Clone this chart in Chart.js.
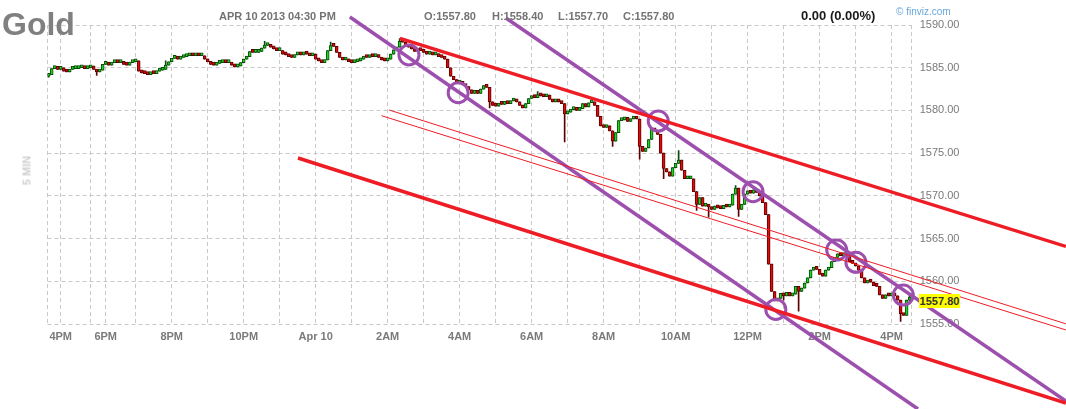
<!DOCTYPE html>
<html>
<head>
<meta charset="utf-8">
<script src="https://cdn.jsdelivr.net/npm/chart.js@4.4.0/dist/chart.umd.min.js"></script>
<style>
body{margin:0;background:#fff;font-family:Arial,"Liberation Sans",sans-serif}
#wrap{position:relative;width:1066px;height:409px;overflow:hidden}
#grafico{position:absolute;left:0;top:0}
.t{position:absolute;white-space:nowrap;font-weight:bold;font-size:11px;line-height:11px;color:#737373}
#titulo{left:2px;top:8px;font-size:32px;line-height:32px;color:#808080}
#cambio{left:801px;top:9px;font-size:13px;line-height:13px;color:#1a1a1a}
#marca{left:896px;top:7px;font-weight:normal;font-size:10px;line-height:10px;color:#6aa6d8}
#intervalo{left:7px;top:165px;color:#cfcfcf;transform:rotate(-90deg);transform-origin:50% 50%;width:40px;text-align:center}
#ultimo{left:919px;top:294px;width:41px;height:14px;line-height:14px;text-align:center;background:#ffff00;color:#333}
</style>
</head>
<body>
<div id="wrap">
<canvas id="grafico" width="1066" height="409"></canvas>
<div class="t" id="titulo">Gold</div>
<div class="t" style="left:219px;top:11px">APR 10 2013 04:30 PM</div>
<div class="t" style="left:424px;top:11px">O:1557.80</div>
<div class="t" style="left:492px;top:11px">H:1558.40</div>
<div class="t" style="left:558px;top:11px">L:1557.70</div>
<div class="t" style="left:623px;top:11px">C:1557.80</div>
<div class="t" id="cambio">0.00 (0.00%)</div>
<div class="t" id="marca">© finviz.com</div>
<div class="t" id="intervalo">5 MIN</div>
<div class="t" id="ultimo">1557.80</div>
</div>
<script>
document.addEventListener("DOMContentLoaded", function(){

// cierres de velas de 5 min (indice = posicion de la vela)
const aperturaInicial=1584.0;
const cierres=[
1584.2,1584.9,
1585.0,1584.8,1585.0,1584.6,1584.5,1584.8,1584.9,1584.9,1585.0,1585.1,1584.9,1585.0,1585.2,1584.8,1584.5,1584.7,
1585.4,1585.6,1585.3,
1585.6,1585.7,1585.6,1585.6,1585.4,1585.3,1585.6,1585.7,1585.8,
1584.6,1584.4,1584.3,1584.2,1584.4,1584.3,1584.6,1584.7,1584.8,1585.3,1585.7,
1586.1,1586.2,1586.0,1586.2,1586.3,
1586.4,1586.5,1586.4,1586.5,1586.4,1586.4,1586.0,1585.7,
1585.4,1585.3,1585.5,1585.6,1585.7,1585.6,1585.6,1585.3,1585.1,1585.2,
1585.6,1586.0,1586.3,1586.9,1586.8,1586.8,1586.9,1587.3,1587.6,1587.7,
1587.4,1587.2,1587.0,1587.0,1586.6,1586.5,1586.3,1586.2,1586.5,
1586.6,1586.5,1586.8,1586.6,1586.4,1586.6,
1586.0,1585.8,1585.6,1585.9,1587.0,1587.6,1587.5,1586.8,1586.2,1585.9,1586.0,
1585.7,1585.6,1585.7,1585.8,
1586.0,1586.3,1586.2,1586.4,1586.3,1586.5,1586.2,
1585.9,1585.8,1586.0,1586.6,1587.1,1587.4,1588.1,1588.0,
1587.6,1587.4,1587.2,1586.9,1587.2,1587.0,
1586.8,1586.6,1586.7,1586.5,1586.6,1586.3,1586.2,1586.0,1585.0,1584.0,
1583.6,1583.2,1583.4,1583.0,1582.8,1582.4,1582.0,1582.2,1582.0,
1582.5,1582.9,1582.7,1581.0,
1580.6,1580.5,1580.8,1580.7,1581.0,1580.8,1581.1,1581.2,1581.0,1580.6,1580.3,1580.8,1581.4,
1581.6,1581.5,1581.8,1581.7,1581.6,1581.8,1581.3,1581.0,1581.2,1581.0,1580.8,
1579.6,1579.8,1580.1,1580.2,1580.0,1580.2,1580.8,1580.4,1580.9,1581.0,1580.6,
1579.3,1578.2,1578.0,1578.2,1577.6,1576.4,1577.4,1578.8,
1578.9,1579.2,1578.7,1579.0,1579.2,1579.0,
1575.8,1575.2,1575.6,1576.6,1577.8,1577.6,1577.2,1575.0,1573.2,
1572.8,1572.3,1573.3,1573.8,1574.2,1573.0,1572.0,1572.0,1572.0,
1570.5,1569.0,1569.8,1568.8,1569.0,
1568.7,1568.4,1568.8,1568.6,1568.5,1568.9,1568.7,1568.9,
1570.2,1570.9,1568.4,1569.0,1570.2,1570.6,1570.3,1570.7,1570.4,1570.0,1569.2,
1567.8,1562.0,1558.8,1557.7,1558.0,1558.6,1558.3,1558.7,1558.3,1558.5,1559.4,1558.8,
1559.2,1559.8,1560.4,1561.3,1561.5,1561.4,1560.8,1560.6,1561.3,1561.6,
1562.3,1562.8,1563.2,1563.0,1563.1,1562.9,1562.3,1562.1,1561.8,1561.3,
1560.4,1559.8,1560.0,1559.9,1559.5,1559.4,1558.4,1558.0,1558.4,
1558.3,1558.4,1558.3,1557.8,1556.2,1556.0,1557.8,1557.8
];
// mechas visibles: [indice, precio]
const mechasAltas=[[39,1585.8],[72,1588.1],[94,1588.0],[117,1588.4],[163,1582.2],[210,1575.3],[229,1571.2],[287,1558.4]];
const mechasBajas=[[0,1583.9],[16,1584.1],[147,1580.3],[172,1576.3],[188,1575.8],[197,1574.3],[205,1572.0],[216,1568.3],[220,1567.5],[230,1567.6],[245,1557.8],[250,1556.5],[284,1555.3],[287,1557.7]];

// lineas de tendencia dibujadas a mano: [indice, precio]
const canalMoradoBajo=[[100.4,1590.94],[289.8,1545.05]];
const canalMoradoAlto=[[152.4,1590.82],[339.1,1545.99]];
const canalRojoAlto=[[117.1,1588.44],[339.1,1564.08]];
const canalRojoBajo=[[83.1,1574.43],[339.1,1545.75]];
const canalFinoA=[[113.5,1580.05],[339.1,1555.02]];
const canalFinoB=[[111.0,1579.38],[339.1,1554.30]];
const circulos=[[120.1,1586.49],[136.5,1582.08],[203.2,1578.76],[234.8,1570.49],[262.7,1563.66],[269.1,1562.22],[284.9,1558.39],[242.4,1556.70]];

// eje x: velas en cada hora
const horasIdx=[4,14,19,29,41,53,65,77,89,101,113,125,137,149,161,173,185,197,209,221,233,245,257,269,281];
const horasTxt=['4PM','','6PM','','8PM','','10PM','','Apr 10','','2AM','','4AM','','6AM','','8AM','','10AM','','12PM','','2PM','','4PM'];
const precioMin=1555, precioMax=1590, precioPaso=5;
const ultimoIdx=287.7, primerIdx=-0.4;

const MORADO='#9d4fae', ROJO='#ee1c25';
const VERDE='#1fd31f', VERDE_B='#0a4a0a', ROJA='#e00b0b', ROJA_B='#5e0000';

const hiMap=Object.fromEntries(mechasAltas), loMap=Object.fromEntries(mechasBajas);
const velas=cierres.map((c,i)=>{
 const o=i?cierres[i-1]:aperturaInicial;
 const hi=hiMap[i]!==undefined?hiMap[i]:Math.max(o,c);
 const lo=loMap[i]!==undefined?loMap[i]:Math.min(o,c);
 return {i,o,c,hi,lo,sube:c>=o};
});

const aPts=arr=>arr.map(p=>({x:p[0],y:p[1]}));
const linea=(arr,color,ancho)=>({type:'line',data:aPts(arr),borderColor:color,borderWidth:ancho,pointRadius:0,clip:false,order:0,tension:0});

Chart.defaults.font.family='Arial, "Liberation Sans", sans-serif';

new Chart(document.getElementById('grafico').getContext('2d'),{
 type:'bar',
 data:{datasets:[
  linea(canalFinoA,ROJO,1),
  linea(canalFinoB,ROJO,1),
  linea(canalRojoAlto,ROJO,3.5),
  linea(canalRojoBajo,ROJO,3.5),
  linea(canalMoradoBajo,MORADO,3.5),
  linea(canalMoradoAlto,MORADO,3.5),
  {type:'line',data:aPts(circulos),showLine:false,pointRadius:10,pointHoverRadius:10,pointBorderWidth:3,
   pointBorderColor:MORADO,pointBackgroundColor:'rgba(0,0,0,0)',clip:false,order:0},
  {type:'bar',data:velas.map(v=>({x:v.i,y:[v.o,v.c]})),
   backgroundColor:velas.map(v=>v.sube?VERDE:ROJA),borderColor:velas.map(v=>v.sube?VERDE_B:ROJA_B),
   borderWidth:1,borderSkipped:false,barThickness:3,minBarLength:3,grouped:false,order:1},
  {type:'bar',data:velas.map(v=>({x:v.i,y:[v.lo,v.hi]})),
   backgroundColor:velas.map(v=>v.sube?VERDE_B:ROJA_B),
   barThickness:1,grouped:false,order:2}
 ]},
 options:{
  responsive:false,animation:false,
  layout:{padding:{left:47.5,top:25,right:0,bottom:0}},
  plugins:{legend:{display:false},tooltip:{enabled:false}},
  scales:{
   x:{type:'linear',min:primerIdx,max:ultimoIdx,offset:false,
    grid:{offset:false,color:'#c9c9c9',lineWidth:1,drawTicks:false},
    border:{display:false,dash:[4,3]},
    afterBuildTicks:s=>{s.ticks=[primerIdx,...horasIdx,ultimoIdx].map(v=>({value:v}));},
    afterFit:s=>{s.height=85;},
    ticks:{autoSkip:false,maxRotation:0,padding:6,color:'#7a7a7a',font:{size:11,weight:'bold'},
     callback:v=>{const k=horasIdx.indexOf(v);return k<0?'':horasTxt[k];}}
   },
   y:{type:'linear',position:'right',min:precioMin,max:precioMax,
    grid:{color:'#c9c9c9',lineWidth:1,drawTicks:false},
    border:{display:false,dash:[4,3]},
    afterFit:s=>{s.width=154.3;},
    ticks:{stepSize:precioPaso,padding:8,color:'#7a7a7a',font:{size:11},callback:v=>v.toFixed(2)}
   }
  }
 }
});

});
</script>
</body>
</html>
